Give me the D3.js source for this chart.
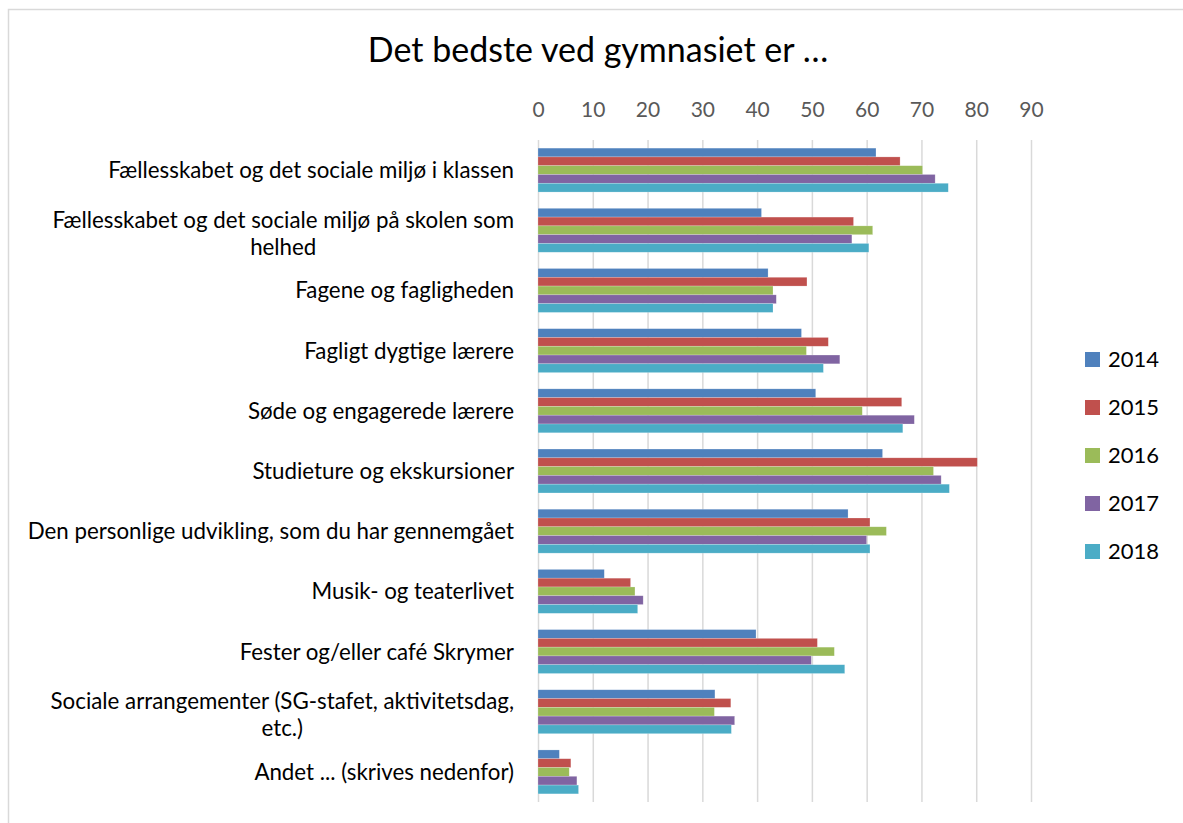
<!DOCTYPE html>
<html>
<head>
<meta charset="utf-8">
<script src="https://cdn.jsdelivr.net/npm/d3@7"></script>
<style>
  body { margin: 0; background: #fff; }
  svg { display: block; font-family: Lato, "Open Sans", sans-serif; }
</style>
</head>
<body>
<svg id="chart"></svg>
<script>
// data
const categories = [
  "Fællesskabet og det sociale miljø i klassen",
  "Fællesskabet og det sociale miljø på skolen som helhed",
  "Fagene og fagligheden",
  "Fagligt dygtige lærere",
  "Søde og engagerede lærere",
  "Studieture og ekskursioner",
  "Den personlige udvikling, som du har gennemgået",
  "Musik- og teaterlivet",
  "Fester og/eller café Skrymer",
  "Sociale arrangementer (SG-stafet, aktivitetsdag, etc.)",
  "Andet ... (skrives nedenfor)"
];
const years = ["2014", "2015", "2016", "2017", "2018"];
const values2014 = [61.7, 40.8, 42.0, 48.1, 50.7, 62.9, 56.6, 12.1, 39.8, 32.3, 3.9];
const values2015 = [66.1, 57.6, 49.1, 53.0, 66.4, 80.2, 60.6, 16.9, 51.0, 35.2, 6.0];
const values2016 = [70.2, 61.1, 42.9, 49.0, 59.2, 72.2, 63.6, 17.7, 54.1, 32.2, 5.7];
const values2017 = [72.5, 57.3, 43.5, 55.1, 68.7, 73.6, 60.0, 19.2, 49.9, 35.9, 7.1];
const values2018 = [74.9, 60.4, 42.9, 52.1, 66.6, 75.1, 60.6, 18.2, 56.0, 35.3, 7.4];
const xTicks = [0, 10, 20, 30, 40, 50, 60, 70, 80, 90];
const colors = ["#4f81bd", "#c0504d", "#9bbb59", "#8064a2", "#4bacc6"];
const title = "Det bedste ved gymnasiet er …";

const seriesValues = [values2014, values2015, values2016, values2017, values2018];
const rows = categories.map((c, i) => ({
  cat: c,
  vals: years.map((y, j) => ({ year: y, value: seriesValues[j][i] }))
}));

const W = 1183, H = 823;
const plot = { left: 538, right: 1031, top: 140, bottom: 802 };
const labelRight = 514;

const svg = d3.select("#chart").attr("width", W).attr("height", H);

// chart frame (runs off right and bottom like the screenshot)
svg.append("rect")
  .attr("x", 8.5).attr("y", 9.5)
  .attr("width", 1300).attr("height", 1000)
  .attr("fill", "none").attr("stroke", "#d9d9d9").attr("stroke-width", 1.5);

const x = d3.scaleLinear().domain([0, 90]).range([plot.left, plot.right]);
const y0 = d3.scaleBand().domain(categories)
  .range([plot.top, plot.bottom])
  .paddingInner(0.27).paddingOuter(0.135);
const y1 = d3.scaleBand().domain(years).range([0, y0.bandwidth()]);
const color = d3.scaleOrdinal().domain(years).range(colors);

// gridlines
const grid = svg.append("g")
  .attr("transform", `translate(0,${plot.top})`)
  .call(d3.axisBottom(x).tickValues(xTicks).tickSize(plot.bottom - plot.top).tickFormat(""));
grid.select(".domain").remove();
grid.selectAll("line").attr("stroke", "#d9d9d9").attr("stroke-width", 1.5);

// top axis labels
const xAxisG = svg.append("g")
  .attr("transform", `translate(0,${plot.top})`)
  .call(d3.axisTop(x).tickValues(xTicks).tickSize(0).tickPadding(23));
xAxisG.select(".domain").remove();
xAxisG.selectAll("text")
  .attr("font-family", "Lato, sans-serif")
  .attr("font-size", 21).attr("fill", "#595959");

// bars
const groups = svg.append("g").selectAll("g")
  .data(rows).join("g")
  .attr("transform", d => `translate(0,${y0(d.cat)})`);
groups.selectAll("rect")
  .data(d => d.vals).join("rect")
  .attr("x", x(0))
  .attr("y", d => y1(d.year))
  .attr("width", d => x(d.value) - x(0))
  .attr("height", y1.bandwidth())
  .attr("fill", d => color(d.year))
  .attr("stroke", "#ffffff").attr("stroke-opacity", 0.35).attr("stroke-width", 0.6);

// category labels, wrapped and centred as a block against the axis
const lineH = 27;
const labels = svg.append("g").selectAll("text")
  .data(categories).join("text")
  .attr("text-anchor", "middle")
  .attr("font-size", 22.3).attr("fill", "#000");
labels.each(function(c) {
  const t = d3.select(this);
  const words = c.split(" ");
  let lines = [], line = [];
  const probe = t.append("tspan");
  const width = s => { probe.text(s); return probe.node().getComputedTextLength(); };
  words.forEach(w => {
    line.push(w);
    if (width(line.join(" ")) > 495 && line.length > 1) {
      line.pop();
      lines.push(line.join(" "));
      line = [w];
    }
  });
  lines.push(line.join(" "));
  const maxW = d3.max(lines, width);
  probe.remove();
  const cx = labelRight - maxW / 2;
  const cy = y0(c) + y0.bandwidth() / 2;
  const first = cy - (lines.length - 1) * lineH / 2 + (lines.length > 1 ? 11 : 8);
  lines.forEach((l, i) => {
    t.append("tspan").attr("x", cx).attr("y", first + i * lineH).text(l);
  });
});

// title
svg.append("text")
  .attr("x", 598).attr("y", 62)
  .attr("text-anchor", "middle")
  .attr("font-size", 34).attr("fill", "#000")
  .text(title);

// legend
const legend = svg.append("g").selectAll("g")
  .data(years).join("g")
  .attr("transform", (d, i) => `translate(1085,${352 + i * 48})`);
legend.append("rect")
  .attr("width", 15).attr("height", 15)
  .attr("fill", d => color(d));
legend.append("text")
  .attr("x", 23).attr("y", 15)
  .attr("font-size", 22).attr("fill", "#000")
  .text(d => d);
</script>
</body>
</html>
